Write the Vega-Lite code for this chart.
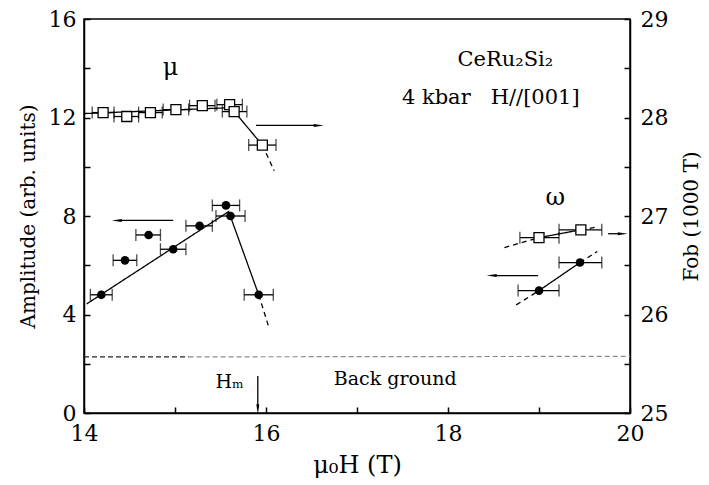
{
 "$schema": "https://vega.github.io/schema/vega-lite/v6.json",
 "width": 546,
 "height": 394,
 "autosize": {"type": "none"},
 "padding": {"left": 84, "top": 19, "right": 79, "bottom": 72},
 "background": "white",
 "config": {
  "font": "DejaVu Serif",
  "view": {"stroke": "black", "strokeWidth": 1.5},
  "axis": {"grid": false, "labelFlush": false, "labelOverlap": false, "domainColor": "black", "domainWidth": 1.5, "tickColor": "black", "tickWidth": 1.5, "labelColor": "black", "titleColor": "black", "labelFont": "DejaVu Serif", "titleFont": "DejaVu Serif", "labelFontSize": 22, "titleFontSize": 20, "titleFontWeight": "normal"}
 },
 "datasets": {
  "amp": [
   {"h": 14.19, "y": 4.8, "lo": 14.07, "hi": 14.31},
   {"h": 14.45, "y": 6.2, "lo": 14.32, "hi": 14.58},
   {"h": 14.71, "y": 7.23, "lo": 14.57, "hi": 14.84},
   {"h": 14.98, "y": 6.65, "lo": 14.84, "hi": 15.12},
   {"h": 15.27, "y": 7.6, "lo": 15.12, "hi": 15.41},
   {"h": 15.56, "y": 8.43, "lo": 15.41, "hi": 15.71},
   {"h": 15.61, "y": 8.0, "lo": 15.45, "hi": 15.77},
   {"h": 15.92, "y": 4.8, "lo": 15.76, "hi": 16.08},
   {"h": 19.0, "y": 4.97, "lo": 18.77, "hi": 19.22},
   {"h": 19.45, "y": 6.11, "lo": 19.22, "hi": 19.69}
  ],
  "freq": [
   {"h": 14.21, "f": 28.05, "lo": 14.09, "hi": 14.33},
   {"h": 14.47, "f": 28.01, "lo": 14.33, "hi": 14.6},
   {"h": 14.73, "f": 28.05, "lo": 14.6, "hi": 14.86},
   {"h": 15.01, "f": 28.08, "lo": 14.87, "hi": 15.15},
   {"h": 15.3, "f": 28.12, "lo": 15.16, "hi": 15.44},
   {"h": 15.6, "f": 28.13, "lo": 15.46, "hi": 15.74},
   {"h": 15.65, "f": 28.06, "lo": 15.52, "hi": 15.79},
   {"h": 15.96, "f": 27.72, "lo": 15.81, "hi": 16.11},
   {"h": 19.0, "f": 26.78, "lo": 18.79, "hi": 19.22},
   {"h": 19.46, "f": 26.86, "lo": 19.22, "hi": 19.69}
  ],
  "ampFit": [
   {"h": 14.03, "y": 4.43, "seg": "a", "style": "solid"},
   {"h": 15.59, "y": 8.18, "seg": "a", "style": "solid"},
   {"h": 15.92, "y": 4.8, "seg": "a", "style": "solid"},
   {"h": 15.92, "y": 4.8, "seg": "b", "style": "dashed"},
   {"h": 16.03, "y": 3.5, "seg": "b", "style": "dashed"},
   {"h": 18.75, "y": 4.39, "seg": "c", "style": "dashed"},
   {"h": 19.0, "y": 4.97, "seg": "c", "style": "dashed"},
   {"h": 19.0, "y": 4.97, "seg": "d", "style": "solid"},
   {"h": 19.45, "y": 6.11, "seg": "d", "style": "solid"},
   {"h": 19.45, "y": 6.11, "seg": "e", "style": "dashed"},
   {"h": 19.64, "y": 6.56, "seg": "e", "style": "dashed"}
  ],
  "freqFit": [
   {"h": 14.0, "f": 28.04, "seg": "a", "style": "solid"},
   {"h": 15.62, "f": 28.1, "seg": "a", "style": "solid"},
   {"h": 15.67, "f": 28.04, "seg": "a", "style": "solid"},
   {"h": 15.96, "f": 27.72, "seg": "a", "style": "solid"},
   {"h": 15.96, "f": 27.72, "seg": "b", "style": "dashed"},
   {"h": 16.09, "f": 27.46, "seg": "b", "style": "dashed"},
   {"h": 18.62, "f": 26.68, "seg": "c", "style": "dashed"},
   {"h": 19.0, "f": 26.78, "seg": "c", "style": "dashed"},
   {"h": 19.0, "f": 26.78, "seg": "d", "style": "solid"},
   {"h": 19.46, "f": 26.86, "seg": "d", "style": "solid"},
   {"h": 19.46, "f": 26.86, "seg": "e", "style": "dashed"},
   {"h": 19.65, "f": 26.89, "seg": "e", "style": "dashed"}
  ],
  "bg": [
   {"h": 14.0, "y": 2.28, "seg": "dark"},
   {"h": 15.15, "y": 2.28, "seg": "dark"},
   {"h": 15.15, "y": 2.28, "seg": "light"},
   {"h": 20.0, "y": 2.3, "seg": "light"}
  ],
  "ampArrows": [
   {"h1": 14.4, "h2": 14.98, "y1": 7.82, "y2": 7.82, "hx": 14.36, "hy": 7.82, "dir": "left"},
   {"h1": 18.52, "h2": 18.99, "y1": 5.58, "y2": 5.58, "hx": 18.48, "hy": 5.58, "dir": "left"},
   {"h1": 15.91, "h2": 15.91, "y1": 1.5, "y2": 0.2, "hx": 15.91, "hy": 0.15, "dir": "down"}
  ],
  "freqArrows": [
   {"h1": 15.89, "h2": 16.54, "f1": 27.92, "f2": 27.92, "hx": 16.58, "hf": 27.92, "dir": "right"},
   {"h1": 19.76, "h2": 19.88, "f1": 26.82, "f2": 26.82, "hx": 19.92, "hf": 26.82, "dir": "right"}
  ],
  "greek": [
   {"h": 14.95, "y": 14.0, "t": "μ"},
   {"h": 19.18, "y": 8.74, "t": "ω"}
  ],
  "labels": [
   {"h": 18.63, "y": 14.35, "t": "CeRu₂Si₂"},
   {"h": 18.47, "y": 12.8, "t": "4 kbar\u00a0\u00a0\u00a0H//[001]"}
  ],
  "notes": [
   {"h": 17.42, "y": 1.38, "t": "Back ground"},
   {"h": 15.6, "y": 1.25, "t": "Hₘ"}
  ]
 },
 "layer": [
  {
   "layer": [
    {
     "data": {"name": "bg"},
     "mark": {"type": "line", "strokeWidth": 1.2, "strokeDash": [5, 3]},
     "encoding": {
      "x": {"field": "h", "type": "quantitative", "scale": {"domain": [14, 20], "nice": false, "zero": false},
            "axis": {"title": "μ₀H (T)", "values": [14, 15, 16, 17, 18, 19, 20], "labelExpr": "datum.value % 2 == 0 ? format(datum.value, 'd') : ''", "tickSize": -6, "labelPadding": 16, "titleFontSize": 24, "titlePadding": 9}},
      "y": {"field": "y", "type": "quantitative", "scale": {"domain": [0, 16], "nice": false},
            "axis": {"title": "Amplitude (arb. units)", "values": [0, 2, 4, 6, 8, 10, 12, 14, 16], "labelExpr": "datum.value % 4 == 0 ? format(datum.value, 'd') : ''", "tickSize": -6, "labelPadding": 14, "titlePadding": 10}},
      "detail": {"field": "seg"},
      "color": {"field": "seg", "type": "nominal", "scale": {"domain": ["dark", "light"], "range": ["#222222", "#8a8a8a"]}, "legend": null}
     }
    },
    {
     "data": {"name": "ampFit"},
     "mark": {"type": "line", "color": "black", "strokeWidth": 1.3},
     "encoding": {
      "x": {"field": "h", "type": "quantitative", "scale": {"domain": [14, 20], "nice": false, "zero": false}},
      "y": {"field": "y", "type": "quantitative", "scale": {"domain": [0, 16], "nice": false}},
      "detail": {"field": "seg"},
      "strokeDash": {"field": "style", "type": "nominal", "scale": {"domain": ["solid", "dashed"], "range": [[1, 0], [5, 4]]}, "legend": null}
     }
    },
    {
     "data": {"name": "amp"},
     "mark": {"type": "rule", "color": "black", "strokeWidth": 1.3},
     "encoding": {
      "x": {"field": "lo", "type": "quantitative", "scale": {"domain": [14, 20], "nice": false, "zero": false}},
      "x2": {"field": "hi"},
      "y": {"field": "y", "type": "quantitative", "scale": {"domain": [0, 16], "nice": false}}
     }
    },
    {
     "data": {"name": "amp"},
     "mark": {"type": "tick", "orient": "vertical", "color": "black", "thickness": 1.3, "size": 12},
     "encoding": {
      "x": {"field": "lo", "type": "quantitative", "scale": {"domain": [14, 20], "nice": false, "zero": false}},
      "y": {"field": "y", "type": "quantitative", "scale": {"domain": [0, 16], "nice": false}}
     }
    },
    {
     "data": {"name": "amp"},
     "mark": {"type": "tick", "orient": "vertical", "color": "black", "thickness": 1.3, "size": 12},
     "encoding": {
      "x": {"field": "hi", "type": "quantitative", "scale": {"domain": [14, 20], "nice": false, "zero": false}},
      "y": {"field": "y", "type": "quantitative", "scale": {"domain": [0, 16], "nice": false}}
     }
    },
    {
     "data": {"name": "amp"},
     "mark": {"type": "point", "shape": "circle", "filled": true, "color": "black", "size": 75, "opacity": 1},
     "encoding": {
      "x": {"field": "h", "type": "quantitative", "scale": {"domain": [14, 20], "nice": false, "zero": false}},
      "y": {"field": "y", "type": "quantitative", "scale": {"domain": [0, 16], "nice": false}}
     }
    },
    {
     "data": {"name": "ampArrows"},
     "mark": {"type": "rule", "color": "black", "strokeWidth": 1.3},
     "encoding": {
      "x": {"field": "h1", "type": "quantitative", "scale": {"domain": [14, 20], "nice": false, "zero": false}},
      "x2": {"field": "h2"},
      "y": {"field": "y1", "type": "quantitative", "scale": {"domain": [0, 16], "nice": false}},
      "y2": {"field": "y2"}
     }
    },
    {
     "data": {"name": "ampArrows"},
     "mark": {"type": "point", "filled": true, "color": "black", "size": 100, "opacity": 1},
     "encoding": {
      "x": {"field": "hx", "type": "quantitative", "scale": {"domain": [14, 20], "nice": false, "zero": false}},
      "y": {"field": "hy", "type": "quantitative", "scale": {"domain": [0, 16], "nice": false}},
      "shape": {"field": "dir", "type": "nominal", "scale": {"domain": ["left", "right", "down"], "range": ["M-1,0L1,-0.3L1,0.3Z", "M1,0L-1,-0.3L-1,0.3Z", "M0,1L-0.3,-1L0.3,-1Z"]}, "legend": null}
     }
    },
    {
     "data": {"name": "greek"},
     "mark": {"type": "text", "font": "DejaVu Serif", "fontSize": 24, "color": "black", "align": "center", "baseline": "middle"},
     "encoding": {
      "x": {"field": "h", "type": "quantitative", "scale": {"domain": [14, 20], "nice": false, "zero": false}},
      "y": {"field": "y", "type": "quantitative", "scale": {"domain": [0, 16], "nice": false}},
      "text": {"field": "t"}
     }
    },
    {
     "data": {"name": "labels"},
     "mark": {"type": "text", "font": "DejaVu Serif", "fontSize": 21, "color": "black", "align": "center", "baseline": "middle"},
     "encoding": {
      "x": {"field": "h", "type": "quantitative", "scale": {"domain": [14, 20], "nice": false, "zero": false}},
      "y": {"field": "y", "type": "quantitative", "scale": {"domain": [0, 16], "nice": false}},
      "text": {"field": "t"}
     }
    },
    {
     "data": {"name": "notes"},
     "mark": {"type": "text", "font": "DejaVu Serif", "fontSize": 19, "color": "black", "align": "center", "baseline": "middle"},
     "encoding": {
      "x": {"field": "h", "type": "quantitative", "scale": {"domain": [14, 20], "nice": false, "zero": false}},
      "y": {"field": "y", "type": "quantitative", "scale": {"domain": [0, 16], "nice": false}},
      "text": {"field": "t"}
     }
    }
   ]
  },
  {
   "layer": [
    {
     "data": {"name": "freqFit"},
     "mark": {"type": "line", "color": "black", "strokeWidth": 1.3},
     "encoding": {
      "x": {"field": "h", "type": "quantitative", "scale": {"domain": [14, 20], "nice": false, "zero": false}},
      "y": {"field": "f", "type": "quantitative", "scale": {"domain": [25, 29], "nice": false, "zero": false},
            "axis": {"orient": "right", "title": "Fob (1000 T)", "titleAngle": 270, "values": [25, 25.5, 26, 26.5, 27, 27.5, 28, 28.5, 29], "labelExpr": "datum.value % 1 == 0 ? format(datum.value, 'd') : ''", "tickSize": -6, "labelPadding": 16, "titlePadding": 34}},
      "detail": {"field": "seg"},
      "strokeDash": {"field": "style", "type": "nominal", "scale": {"domain": ["solid", "dashed"], "range": [[1, 0], [5, 4]]}, "legend": null}
     }
    },
    {
     "data": {"name": "freq"},
     "mark": {"type": "rule", "color": "black", "strokeWidth": 1.3},
     "encoding": {
      "x": {"field": "lo", "type": "quantitative", "scale": {"domain": [14, 20], "nice": false, "zero": false}},
      "x2": {"field": "hi"},
      "y": {"field": "f", "type": "quantitative", "scale": {"domain": [25, 29], "nice": false, "zero": false}}
     }
    },
    {
     "data": {"name": "freq"},
     "mark": {"type": "tick", "orient": "vertical", "color": "black", "thickness": 1.3, "size": 12},
     "encoding": {
      "x": {"field": "lo", "type": "quantitative", "scale": {"domain": [14, 20], "nice": false, "zero": false}},
      "y": {"field": "f", "type": "quantitative", "scale": {"domain": [25, 29], "nice": false, "zero": false}}
     }
    },
    {
     "data": {"name": "freq"},
     "mark": {"type": "tick", "orient": "vertical", "color": "black", "thickness": 1.3, "size": 12},
     "encoding": {
      "x": {"field": "hi", "type": "quantitative", "scale": {"domain": [14, 20], "nice": false, "zero": false}},
      "y": {"field": "f", "type": "quantitative", "scale": {"domain": [25, 29], "nice": false, "zero": false}}
     }
    },
    {
     "data": {"name": "freq"},
     "mark": {"type": "point", "shape": "square", "filled": true, "fill": "white", "stroke": "black", "strokeWidth": 1.3, "size": 100, "opacity": 1},
     "encoding": {
      "x": {"field": "h", "type": "quantitative", "scale": {"domain": [14, 20], "nice": false, "zero": false}},
      "y": {"field": "f", "type": "quantitative", "scale": {"domain": [25, 29], "nice": false, "zero": false}}
     }
    },
    {
     "data": {"name": "freqArrows"},
     "mark": {"type": "rule", "color": "black", "strokeWidth": 1.3},
     "encoding": {
      "x": {"field": "h1", "type": "quantitative", "scale": {"domain": [14, 20], "nice": false, "zero": false}},
      "x2": {"field": "h2"},
      "y": {"field": "f1", "type": "quantitative", "scale": {"domain": [25, 29], "nice": false, "zero": false}},
      "y2": {"field": "f2"}
     }
    },
    {
     "data": {"name": "freqArrows"},
     "mark": {"type": "point", "filled": true, "color": "black", "size": 100, "opacity": 1},
     "encoding": {
      "x": {"field": "hx", "type": "quantitative", "scale": {"domain": [14, 20], "nice": false, "zero": false}},
      "y": {"field": "hf", "type": "quantitative", "scale": {"domain": [25, 29], "nice": false, "zero": false}},
      "shape": {"field": "dir", "type": "nominal", "scale": {"domain": ["left", "right", "down"], "range": ["M-1,0L1,-0.3L1,0.3Z", "M1,0L-1,-0.3L-1,0.3Z", "M0,1L-0.3,-1L0.3,-1Z"]}, "legend": null}
     }
    }
   ]
  }
 ],
 "resolve": {"scale": {"y": "independent"}}
}
